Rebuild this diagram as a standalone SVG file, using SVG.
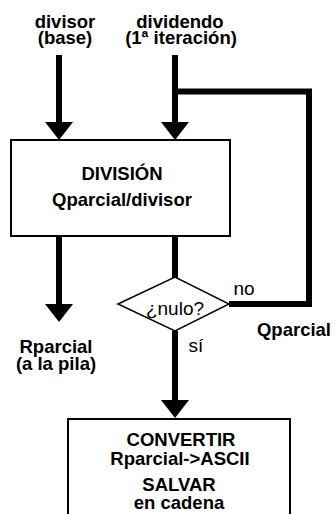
<svg xmlns="http://www.w3.org/2000/svg" width="336" height="514" viewBox="0 0 336 514">
<style>
.bg{fill:#fff}
.box{fill:#fff;stroke:#000;stroke-width:2}
.dia{fill:#fff;stroke:#000;stroke-width:1.5}
.wire{fill:none;stroke:#000;stroke-width:6;stroke-linejoin:miter}
.arr{fill:none;stroke:#000;stroke-width:6;marker-end:url(#ah)}
text{font-family:"Liberation Sans",Arial,sans-serif;font-size:19px;fill:#000;text-anchor:middle}
.b{font-weight:bold;font-size:18.5px}
</style>
<defs>
<marker id="ah" markerUnits="userSpaceOnUse" markerWidth="19" markerHeight="28" refX="0" refY="14" orient="auto" overflow="visible">
<path d="M0,0 L18,14 L0,28 Z" fill="#000"/>
</marker>
</defs>
<rect class="bg" x="0" y="0" width="336" height="514"/>
<g id="connectors">
<line class="arr" x1="59" y1="55" x2="59" y2="122"/>
<line class="arr" x1="175" y1="55" x2="175" y2="122"/>
<line class="arr" x1="59" y1="236" x2="59" y2="304"/>
<line class="wire" x1="175" y1="236" x2="175" y2="278"/>
<line class="arr" x1="175" y1="331" x2="175" y2="400"/>
<polyline class="wire" points="229,304 309,304 309,91.5 172,91.5"/>
</g>
<g id="label-divisor">
<text class="b" x="65" y="28">divisor</text>
<text class="b" x="65" y="44">(base)</text>
</g>
<g id="label-dividendo">
<text class="b" x="180" y="28">dividendo</text>
<text class="b" x="181" y="44">(1ª iteración)</text>
</g>
<g id="division">
<rect class="box" x="11" y="140" width="219" height="96"/>
<text class="b" x="122" y="180">DIVISIÓN</text>
<text class="b" x="122" y="206">Qparcial/divisor</text>
</g>
<g id="nulo">
<polygon class="dia" points="118,304 175,277 229,304 175,331"/>
<text x="175" y="315">¿nulo?</text>
</g>
<g id="label-no"><text x="244" y="295">no</text></g>
<g id="label-si"><text x="196" y="352">sí</text></g>
<g id="label-qparcial"><text class="b" x="294" y="336">Qparcial</text></g>
<g id="label-rparcial">
<text class="b" x="56" y="353">Rparcial</text>
<text class="b" x="56" y="370">(a la pila)</text>
</g>
<g id="convertir">
<rect class="box" x="68" y="419" width="222" height="96"/>
<text class="b" x="181" y="446">CONVERTIR</text>
<text class="b" x="180" y="465">Rparcial-&gt;ASCII</text>
<text class="b" x="179" y="491">SALVAR</text>
<text class="b" x="179" y="509">en cadena</text>
</g>
</svg>
